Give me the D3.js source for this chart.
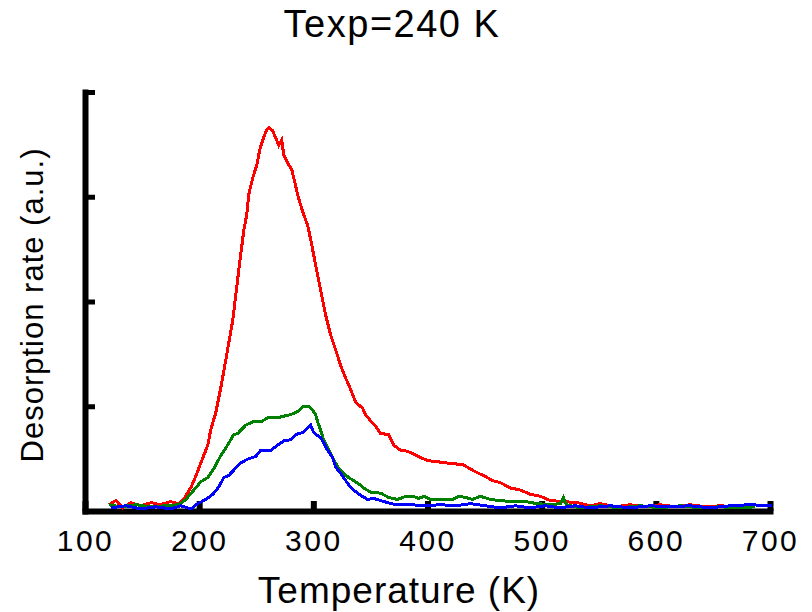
<!DOCTYPE html>
<html>
<head>
<meta charset="utf-8">
<script src="https://cdn.jsdelivr.net/npm/d3@7"></script>
<style>
  body { margin: 0; background: #fff; }
  svg { display: block; }
</style>
</head>
<body>
<div id="chart"></div>
<script>
// Values (temperature in K, rate in a.u.)
const redT = [121, 127, 133, 140, 149, 158, 166, 175, 182, 187, 193, 197, 201.5, 207.6, 210, 214.6, 219, 223.3, 229.4, 234.7, 239.1, 241.7, 243.4, 246.9, 250.4, 253.1, 255.7, 258.3, 260.9, 264.4, 267.1, 269.7, 272.3, 274.1, 277.6, 281.1, 283.7, 286.3, 288.9, 291.5, 295, 297.7, 302, 306.4, 310.8, 315.2, 319.5, 323.9, 328.3, 332.7, 337, 343.2, 345.8, 350.2, 354.5, 358.9, 365.9, 370.3, 376.4, 382.5, 388.6, 393.9, 400.9, 408.8, 415.8, 424.5, 431.5, 437.6, 444.6, 450.7, 456.9, 463.9, 472.6, 481.4, 490.1, 498.8, 507.6, 519, 531.2, 542.6, 551.3, 564.4, 577.6, 590.7, 603.8, 616.9, 630, 643.2, 656.3, 669.4, 682.5, 687];
const redV = [0.06, 0.10, 0.03, 0.08, 0.05, 0.08, 0.06, 0.09, 0.07, 0.12, 0.23, 0.33, 0.46, 0.63, 0.77, 0.94, 1.18, 1.44, 1.82, 2.30, 2.68, 2.83, 3.02, 3.18, 3.30, 3.45, 3.54, 3.62, 3.66, 3.63, 3.56, 3.49, 3.54, 3.40, 3.32, 3.26, 3.14, 3.02, 2.92, 2.83, 2.73, 2.59, 2.35, 2.11, 1.87, 1.68, 1.54, 1.39, 1.27, 1.16, 1.04, 0.98, 0.92, 0.86, 0.81, 0.74, 0.73, 0.63, 0.58, 0.57, 0.54, 0.51, 0.48, 0.47, 0.46, 0.45, 0.44, 0.40, 0.36, 0.33, 0.29, 0.27, 0.22, 0.20, 0.16, 0.14, 0.10, 0.09, 0.08, 0.05, 0.07, 0.04, 0.06, 0.04, 0.06, 0.04, 0.06, 0.04, 0.05, 0.04, 0.05, 0.04];

const greenT = [121, 131.5, 144.6, 157.7, 170.8, 182.2, 188.3, 195.3, 201.5, 207.6, 212, 214.6, 219, 223.3, 227.7, 230.3, 233.8, 236.4, 240.8, 246.9, 253.9, 260.1, 268.8, 275.8, 280.2, 286.3, 291.5, 295.9, 299.4, 302, 303.8, 306.4, 309, 312.5, 315.2, 317.8, 322.2, 326.5, 330.9, 335.3, 339.7, 344, 350.2, 358.9, 365.9, 373.8, 380.8, 387.8, 392.1, 397.4, 402.6, 411.4, 421.9, 427.1, 433.2, 439.4, 446.4, 455.1, 463.9, 472.6, 485.7, 496.2, 507.6, 516.3, 519, 521.6, 533.8, 551.3, 568.8, 586.3, 603.8, 621.3, 638.8, 656.3, 673.8, 687];
const greenV = [0.06, 0.04, 0.06, 0.04, 0.05, 0.06, 0.11, 0.20, 0.28, 0.32, 0.39, 0.44, 0.53, 0.60, 0.68, 0.73, 0.74, 0.77, 0.82, 0.85, 0.85, 0.89, 0.89, 0.91, 0.92, 0.95, 1.00, 1.00, 0.96, 0.92, 0.85, 0.77, 0.68, 0.61, 0.55, 0.49, 0.41, 0.36, 0.32, 0.29, 0.26, 0.22, 0.18, 0.17, 0.13, 0.11, 0.14, 0.14, 0.12, 0.14, 0.11, 0.11, 0.11, 0.14, 0.13, 0.11, 0.14, 0.11, 0.10, 0.09, 0.09, 0.07, 0.06, 0.07, 0.13, 0.06, 0.03, 0.05, 0.03, 0.05, 0.03, 0.05, 0.03, 0.04, 0.03, 0.04];

const blueT = [122.7, 135.9, 149, 162.1, 175.2, 184, 192.7, 198.8, 205.8, 212, 217.2, 221.6, 226, 230.3, 236.4, 243.4, 249.6, 253.9, 262.7, 268.8, 274.1, 280.2, 284.6, 290.7, 295, 297.7, 300.3, 303.8, 306.4, 309, 312.5, 316.9, 319.5, 323.9, 326.5, 330.9, 335.3, 341.4, 347.5, 352.8, 358.9, 365, 372, 385.1, 398.3, 411.4, 424.5, 437.6, 450.7, 463.9, 477, 490.1, 503.2, 516.3, 529.5, 542.6, 560.1, 577.6, 595.1, 612.6, 630, 647.5, 665, 682.5, 701.7];
const blueV = [0.03, 0.05, 0.02, 0.04, 0.02, 0.05, 0.02, 0.07, 0.11, 0.16, 0.23, 0.32, 0.34, 0.39, 0.46, 0.50, 0.52, 0.58, 0.58, 0.63, 0.67, 0.68, 0.73, 0.75, 0.79, 0.82, 0.75, 0.72, 0.70, 0.65, 0.58, 0.51, 0.42, 0.36, 0.32, 0.25, 0.20, 0.15, 0.11, 0.12, 0.10, 0.08, 0.06, 0.06, 0.05, 0.06, 0.05, 0.07, 0.05, 0.03, 0.05, 0.03, 0.05, 0.03, 0.05, 0.03, 0.05, 0.03, 0.05, 0.04, 0.05, 0.03, 0.05, 0.06, 0.05];

const xTicks = [100, 200, 300, 400, 500, 600, 700];
const yTicks = [0, 1, 2, 3, 4];

const width = 812, height = 612;
const svg = d3.select('#chart').append('svg')
    .attr('width', width)
    .attr('height', height);

const x = d3.scaleLinear().domain([100, 700]).range([85, 770]);
const y = d3.scaleLinear().domain([0, 4]).range([511, 92]);

// Axes (thick black, ticks pointing inward)
const xAxis = svg.append('g')
    .attr('transform', 'translate(0,511)')
    .call(d3.axisBottom(x).tickValues(xTicks).tickSizeInner(-10).tickSizeOuter(0).tickPadding(19));
xAxis.select('.domain').attr('stroke-width', 6).attr('stroke-linecap', 'square');
xAxis.selectAll('.tick line').attr('stroke-width', 6);
xAxis.selectAll('.tick text')
    .attr('font-family', 'Liberation Sans, Arial, sans-serif')
    .attr('font-size', 30)
    .attr('letter-spacing', 2.5)
    .attr('fill', '#000');

const yAxis = svg.append('g')
    .attr('transform', 'translate(85,0)')
    .call(d3.axisLeft(y).tickValues(yTicks).tickSizeInner(-10).tickSizeOuter(0).tickFormat(''));
yAxis.select('.domain').attr('stroke-width', 6).attr('stroke-linecap', 'square');
yAxis.selectAll('.tick line').attr('stroke-width', 5);

// Curves
const series = [
    {t: redT, v: redV, color: '#ff0000'},
    {t: greenT, v: greenV, color: '#008000'},
    {t: blueT, v: blueV, color: '#0000ff'}
];

const line = d3.line()
    .x(d => x(d[0]))
    .y(d => y(d[1]));

series.forEach(s => {
    svg.append('path')
        .datum(d3.zip(s.t, s.v))
        .attr('fill', 'none')
        .attr('stroke', s.color)
        .attr('stroke-width', 3)
        .attr('shape-rendering', 'crispEdges')
        .attr('d', line);
});

// Titles
svg.append('text')
    .attr('x', 392)
    .attr('y', 37)
    .attr('text-anchor', 'middle')
    .attr('font-family', 'Liberation Sans, Arial, sans-serif')
    .attr('font-size', 38)
    .attr('letter-spacing', 1.5)
    .text('Texp=240 K');

svg.append('text')
    .attr('x', 399)
    .attr('y', 603)
    .attr('text-anchor', 'middle')
    .attr('font-family', 'Liberation Sans, Arial, sans-serif')
    .attr('font-size', 37)
    .attr('letter-spacing', 1)
    .text('Temperature (K)');

svg.append('text')
    .attr('transform', 'translate(43,305) rotate(-90)')
    .attr('text-anchor', 'middle')
    .attr('font-family', 'Liberation Sans, Arial, sans-serif')
    .attr('font-size', 31)
    .attr('letter-spacing', 1)
    .text('Desorption rate (a.u.)');
</script>
</body>
</html>
